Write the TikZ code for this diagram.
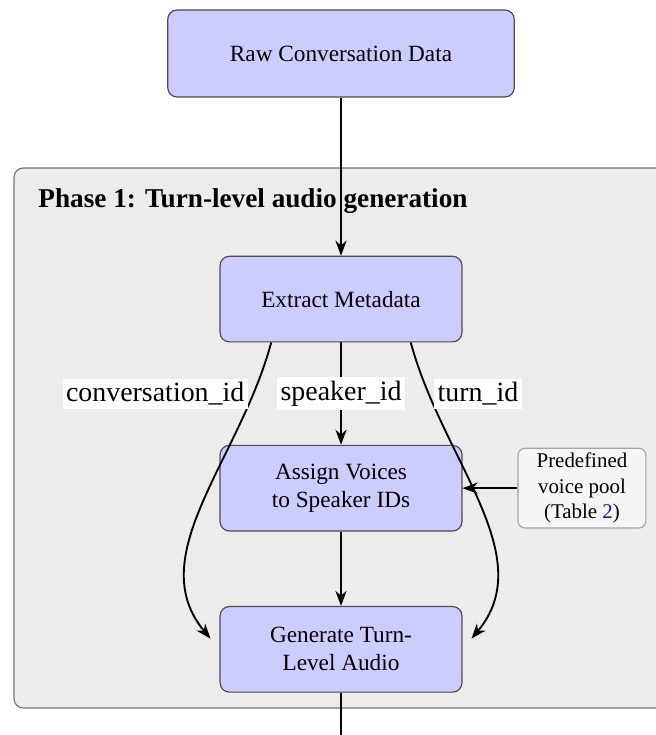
\documentclass[tikz,border=0pt]{standalone}
\usepackage{fontspec}
\setmainfont{Liberation Serif}
\usetikzlibrary{positioning,arrows.meta,backgrounds,calc}
\definecolor{linkblue}{rgb}{0.1,0.1,0.55}
\tikzstyle{stepbox}=[rectangle, rounded corners=4pt, draw=black!70, fill=blue!20, line width=0.5pt, minimum height=36.8pt, minimum width=104pt, inner sep=2pt, align=center]
\tikzstyle{rawbox}=[stepbox, minimum width=149pt, minimum height=37.4pt]
\tikzstyle{poolbox}=[rectangle, rounded corners=3pt, draw=black!35, fill=gray!8, line width=0.5pt, minimum width=55pt, minimum height=34pt, inner sep=2pt, align=center, font=\small]
\tikzstyle{phasebox}=[rounded corners=4pt, draw=black!55, fill=gray!15, line width=0.5pt]
\tikzstyle{flow}=[-{Stealth[length=6.5pt,width=4.8pt]}, thick]
\tikzstyle{idlabel}=[fill=white, inner sep=1.5pt, font=\large]

\begin{document}
\begin{tikzpicture}[x=0.43pt, y=-0.43pt, node distance=0mm]
\useasboundingbox (0,0) rectangle (655,735);
\clip (0,0) rectangle (655,735);
\node (RAW) [rawbox] at (341,53.5) {Raw Conversation Data};
\node (EXTRACT) [stepbox, below=68pt of RAW] {Extract Metadata};
\node (ASSIGN) [stepbox, below=44pt of EXTRACT] {Assign Voices\\to Speaker IDs};
\node (GENERATE) [stepbox, below=32pt of ASSIGN] {Generate Turn-\\Level Audio};
\node (POOL) [poolbox, right=23.6pt of ASSIGN] {Predefined\\voice pool\\(Table \textcolor{linkblue}{2})};
\coordinate (OUT) at (341,770);
\begin{scope}[on background layer]
\draw[phasebox] (14,168) rectangle (720,708);
\end{scope}
\node (PHASE) [below right, font=\fontsize{11.7}{14}\selectfont\bfseries, inner sep=0pt] at (38,188) {Phase 1: Turn-level audio generation};
% connectors
\draw[flow] (RAW) -- (EXTRACT);
\draw[flow] (EXTRACT) -- node[idlabel] {speaker\_id} (ASSIGN);
\draw[flow] (ASSIGN) -- (GENERATE);
\draw[flow] (POOL) -- (ASSIGN);
\draw[flow] (GENERATE) -- (OUT);
\draw[flow, shorten >=6pt] ([xshift=-30pt]EXTRACT.south) to[out=-105, in=130] node[pos=0.15, idlabel, left=2pt] {conversation\_id} (GENERATE.west);
\draw[flow, shorten >=6pt] ([xshift=30pt]EXTRACT.south) to[out=-75, in=50] node[pos=0.15, idlabel, right=2pt] {turn\_id} (GENERATE.east);
\end{tikzpicture}
\end{document}
